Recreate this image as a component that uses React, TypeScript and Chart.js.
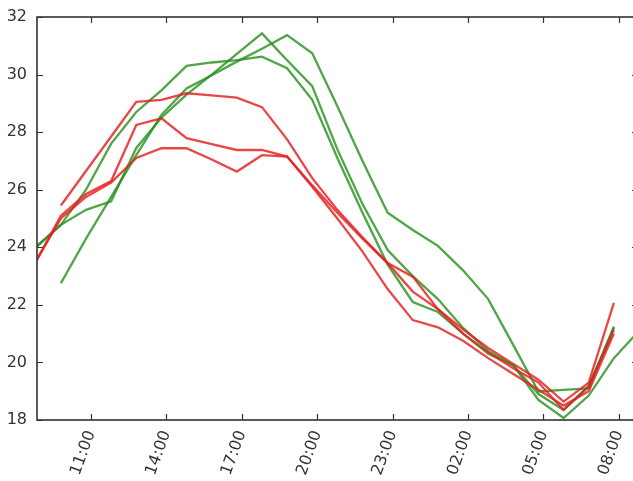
import React, { useEffect, useRef } from "react";
import { Chart, registerables } from "chart.js";

Chart.register(...registerables);

// Sample times (one reading per hour)
const sampleTimes = [
  "08:48", "09:48", "10:48", "11:48", "12:48", "13:48", "14:48", "15:48", "16:48",
  "17:48", "18:48", "19:48", "20:48", "21:48", "22:48", "23:48", "00:48", "01:48",
  "02:48", "03:48", "04:48", "05:48", "06:48", "07:48", "08:48",
];

// Axis ticks
const xTickHours = [11, 14, 17, 20, 23, 26, 29, 32];
const xTickLabels = ["11:00", "14:00", "17:00", "20:00", "23:00", "02:00", "05:00", "08:00"];
const yTicks = [18, 20, 22, 24, 26, 28, 30, 32];

// Red series
const redA = [null, 25.45, 26.65, 27.85, 29.05, 29.12, 29.35, 29.28, 29.2, 28.87, 27.75, 26.4, 25.3, 24.35, 23.45, 22.98, 21.85, 21.15, 20.5, 19.95, 19.4, 18.64, 19.3, 22.07, null];
const redB = [23.5, 25.1, 25.85, 26.3, 28.25, 28.48, 27.79, 27.58, 27.38, 27.38, 27.15, 26.15, 25.2, 24.3, 23.45, 22.46, 21.85, 21.0, 20.35, 19.8, 19.3, 18.35, 19.15, 21.13, null];
const redC = [23.5, 25.0, 25.75, 26.25, 27.1, 27.44, 27.44, 27.05, 26.63, 27.2, 27.15, 26.1, 25.0, 23.85, 22.55, 21.47, 21.22, 20.75, 20.15, 19.6, 19.05, 18.5, 19.0, 21.0, null];

// Green series
const greenA = [24.0, 24.78, 25.3, 25.6, 27.45, 28.5, 29.3, 30.0, 30.72, 31.43, 30.5, 29.6, 27.4, 25.5, 23.9, 23.0, 22.2, 21.2, 20.4, 19.9, 18.9, 18.35, 19.2, 21.2, null];
const greenB = [24.0, 24.78, 26.0, 27.6, 28.7, 29.45, 30.3, 30.42, 30.5, 30.62, 30.22, 29.12, 27.1, 25.2, 23.4, 22.1, 21.75, 21.0, 20.3, 19.9, 18.7, 18.07, 18.85, 20.15, 21.1];
const greenC = [null, 22.75, 24.3, 25.75, 27.2, 28.6, 29.52, 29.98, 30.45, 30.9, 31.37, 30.74, 28.9, 27.0, 25.2, 24.6, 24.05, 23.2, 22.2, 20.6, 18.99, 19.05, 19.1, 21.25, null];

const RED = "rgba(228,30,30,0.82)";
const GREEN = "rgba(40,145,30,0.82)";
const AXIS = "#333333";
const FONT = { family: "'DejaVu Sans', sans-serif", size: 16 };

function toHours(times: string[]): number[] {
  const out: number[] = [];
  let day = 0;
  let prev = -1;
  for (const t of times) {
    const [hh, mm] = t.split(":").map(Number);
    const h = hh + mm / 60;
    if (h < prev) day += 24;
    prev = h;
    out.push(h + day);
  }
  return out;
}

const hours = toHours(sampleTimes);

function points(values: (number | null)[]) {
  const pts: { x: number; y: number }[] = [];
  values.forEach((v, i) => {
    if (v !== null && v !== undefined) pts.push({ x: hours[i], y: v });
  });
  return pts;
}

const framePlugin = {
  id: "frame",
  afterDatasetsDraw(chart: any) {
    const { ctx, chartArea, scales } = chart;
    const { left, right, top, bottom } = chartArea;
    ctx.save();
    ctx.strokeStyle = AXIS;
    ctx.lineWidth = 1.6;
    ctx.strokeRect(left, top, right - left, bottom - top);
    ctx.lineWidth = 1.2;
    const tl = 6;
    ctx.beginPath();
    scales.x.ticks.forEach((t: any) => {
      const px = Math.round(scales.x.getPixelForValue(t.value)) + 0.5;
      ctx.moveTo(px, bottom);
      ctx.lineTo(px, bottom - tl);
      ctx.moveTo(px, top);
      ctx.lineTo(px, top + tl);
    });
    scales.y.ticks.forEach((t: any) => {
      const py = Math.round(scales.y.getPixelForValue(t.value)) + 0.5;
      ctx.moveTo(left, py);
      ctx.lineTo(left + tl, py);
      ctx.moveTo(right, py);
      ctx.lineTo(right - tl, py);
    });
    ctx.stroke();
    ctx.restore();
  },
};

export default function App() {
  const ref = useRef<HTMLCanvasElement | null>(null);

  useEffect(() => {
    if (!ref.current) return;
    const series = [
      { data: redA, color: RED },
      { data: redB, color: RED },
      { data: redC, color: RED },
      { data: greenA, color: GREEN },
      { data: greenB, color: GREEN },
      { data: greenC, color: GREEN },
    ];
    const chart = new Chart(ref.current, {
      type: "line",
      data: {
        datasets: series.map((s) => ({
          data: points(s.data),
          borderColor: s.color,
          backgroundColor: s.color,
          borderWidth: 2.3,
          pointRadius: 0,
          tension: 0,
          fill: false,
          clip: 0,
        })),
      },
      options: {
        responsive: false,
        animation: false,
        events: [],
        parsing: false,
        layout: { padding: { top: 17, left: 0, right: 0, bottom: 0 } },
        plugins: { legend: { display: false }, tooltip: { enabled: false } },
        scales: {
          x: {
            type: "linear",
            min: 8.85,
            max: 32.76,
            afterBuildTicks: (s: any) => {
              s.ticks = xTickHours.map((v) => ({ value: v }));
            },
            afterFit: (s: any) => {
              s.height = 61;
              s.paddingLeft = 0;
              s.paddingRight = 0;
            },
            ticks: {
              autoSkip: false,
              minRotation: 70,
              maxRotation: 70,
              padding: 8,
              color: AXIS,
              font: FONT,
              callback: (v: any) => {
                const i = xTickHours.indexOf(Number(v));
                return i >= 0 ? xTickLabels[i] : "";
              },
            },
            grid: { display: false, drawTicks: false },
            border: { display: false },
          },
          y: {
            type: "linear",
            min: 18,
            max: 32,
            afterBuildTicks: (s: any) => {
              s.ticks = yTicks.map((v) => ({ value: v }));
            },
            afterFit: (s: any) => {
              s.width = 37;
              s.paddingTop = 0;
              s.paddingBottom = 0;
            },
            ticks: {
              padding: 10,
              color: AXIS,
              font: FONT,
              callback: (v: any) => String(v),
            },
            grid: { display: false, drawTicks: false },
            border: { display: false },
          },
        },
      },
      plugins: [framePlugin],
    });
    return () => chart.destroy();
  }, []);

  return (
    <div
      style={{
        position: "fixed",
        left: 0,
        top: 0,
        width: 633,
        height: 481,
        overflow: "hidden",
        background: "#ffffff",
      }}
    >
      <canvas
        ref={ref}
        width={638}
        height={481}
        style={{ display: "block", width: 638, height: 481 }}
      />
    </div>
  );
}
